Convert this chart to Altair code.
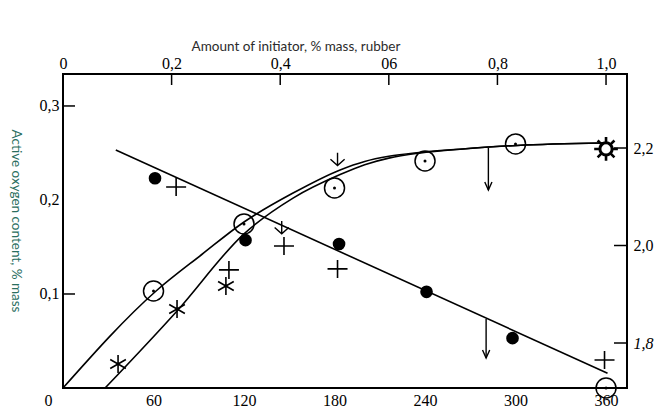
import altair as alt
import pandas as pd

# ---------------- axis ticks / labels ----------------
bottom_ticks = [0, 60, 120, 180, 240, 300, 360]
top_ticks = [0, 72, 144, 216, 288, 360]          # positions of the top-axis ticks (bottom-axis units)
top_labels = ["0", "0,2", "0,4", "06", "0,8", "1,0"]
top_tick_marks = [72, 144, 216, 288, 360]
left_ticks = [0.1, 0.2, 0.3]
left_tick_marks = [0.1, 0.3]
right_ticks = [1.8, 2.0, 2.2]

top_title = "Amount of initiator, % mass, rubber"
left_title = "Active oxygen content, % mass"

# ---------------- series (left axis) ----------------
circ_x = [60, 120, 180, 240, 300, 360]
circ_y = [0.1032, 0.1745, 0.2128, 0.2415, 0.2596, 0.0]

star_x = [36.5, 75.6, 108]
star_y = [0.0255, 0.0840, 0.1085]

oarrow_x = [145, 182]
oarrow_y = [0.170, 0.2426]

sun_x = [360]
sun_y = [0.2543]

curve1_x = [0, 61.7, 92, 120, 152.5, 183.7, 200, 216, 236, 265, 301, 358]
curve1_y = [0, 0.1032, 0.1420, 0.1766, 0.2074, 0.2320, 0.2410, 0.2465, 0.2505, 0.2543, 0.2580, 0.2606]
curve2_x = [27.9, 75.6, 120, 152.5, 183.7, 200, 216, 236, 265, 301, 358]
curve2_y = [0, 0.0820, 0.1640, 0.2020, 0.2270, 0.2375, 0.2445, 0.2498, 0.2543, 0.2580, 0.2606]

darrow_x = [282, 280.5]
darrow_y1 = [0.2553, 0.0734]
darrow_y2 = [0.2106, 0.0319]

# ---------------- series (right axis) ----------------
fill_x = [61, 121, 183, 241, 298]
fill_y = [2.138, 2.011, 2.003, 1.905, 1.810]

plus_x = [75, 110, 146.5, 182, 359]
plus_y = [2.120, 1.950, 1.999, 1.952, 1.765]

line_x = [35, 361]
line_y = [2.196, 1.738]

# ---------------- scales ----------------
X_DOM = [0, 373.9]
YL_DOM = [0, 0.334]
YR_DOM = [1.7077, 2.3518]

SERIF = "'Liberation Serif', 'Times New Roman', serif"


def xs(field="x", axis=None):
    return alt.X(f"{field}:Q", scale=alt.Scale(domain=X_DOM, nice=False, zero=False), axis=axis)


def yl(field="y", axis=None):
    return alt.Y(f"{field}:Q", scale=alt.Scale(domain=YL_DOM, nice=False, zero=False), axis=axis)


def yr(field="y", axis=None):
    return alt.Y(f"{field}:Q", scale=alt.Scale(domain=YR_DOM, nice=False, zero=False), axis=axis)


comma_expr = "replace(format(datum.value, '.1f'), '.', ',')"
top_expr = "".join(f"datum.value == {v} ? '{l}' : " for v, l in zip(top_ticks, top_labels)) + "''"

bottom_axis = alt.Axis(values=bottom_ticks, orient="bottom", ticks=False, domain=False, grid=False,
                       labelFont=SERIF, labelFontSize=16, labelColor="black", labelPadding=4,
                       labelFlush=False, labelOverlap=False, title=None,
                       labelOffset={"condition": {"test": "datum.value == 0", "value": -15}, "value": 0})
top_axis = alt.Axis(values=top_ticks, orient="top", ticks=False, domain=False, grid=False,
                    labelFont=SERIF, labelFontSize=16, labelColor="black", labelPadding=3,
                    labelFlush=False, labelOverlap=False, labelExpr=top_expr, title=None)
left_axis = alt.Axis(values=left_ticks, orient="left", ticks=False, domain=False, grid=False,
                     labelFont=SERIF, labelFontSize=16, labelColor="black", labelPadding=4,
                     labelFlush=False, labelOverlap=False, labelExpr=comma_expr, title=None)
right_axis = alt.Axis(values=right_ticks, orient="right", ticks=False, domain=False, grid=False,
                      labelFont=SERIF, labelFontSize=16, labelColor="black", labelPadding=6,
                      labelFlush=False, labelOverlap=False, labelExpr=comma_expr, title=None,
                      labelFontStyle={"condition": {"test": "datum.value < 1.9", "value": "italic"},
                                      "value": "normal"})

# ---------------- marker shapes ----------------
PLUS = "M-1,0L1,0M0,-0.9L0,0.9"
ASTER = "M0,-1L0,1M-0.87,-0.5L0.87,0.5M-0.87,0.5L0.87,-0.5"
OARROW = "M0,-1L0,0.8M-1,-0.1L0,0.8L1,-0.1"
HEAD = "M-0.45,-1L0,0L0.45,-1"
RAYS = ("M0,-1L0,-0.55M0,1L0,0.55M-1,0L-0.55,0M1,0L0.55,0"
        "M-0.71,-0.71L-0.4,-0.4M0.71,0.71L0.4,0.4M-0.71,0.71L-0.4,0.4M0.71,-0.71L0.4,-0.4")

# ---------------- layers ----------------
curves_df = pd.DataFrame({
    "x": curve1_x + curve2_x,
    "y": curve1_y + curve2_y,
    "s": ["c1"] * len(curve1_x) + ["c2"] * len(curve2_x),
})
curves = alt.Chart(curves_df).mark_line(interpolate="monotone", color="black", strokeWidth=1.6).encode(
    x=xs(axis=bottom_axis), y=yl(), detail="s:N")

circ_df = pd.DataFrame({"x": circ_x, "y": circ_y})
circ_open = alt.Chart(circ_df).mark_point(shape="circle", size=400, filled=False, color="black",
                                          strokeWidth=1.5, opacity=1).encode(x=xs(), y=yl())
circ_dot = alt.Chart(circ_df).mark_point(shape="circle", size=9, filled=True, color="black",
                                         opacity=1).encode(x=xs(), y=yl())

stars = alt.Chart(pd.DataFrame({"x": star_x, "y": star_y})).mark_point(
    shape=ASTER, size=324, filled=False, color="black", strokeWidth=1.6, opacity=1).encode(x=xs(), y=yl())

oarrows = alt.Chart(pd.DataFrame({"x": oarrow_x, "y": oarrow_y})).mark_point(
    shape=OARROW, size=200, filled=False, color="black", strokeWidth=1.4, opacity=1).encode(x=xs(), y=yl())

sun_df = pd.DataFrame({"x": sun_x, "y": sun_y})
sun_ring = alt.Chart(sun_df).mark_point(shape="circle", size=150, filled=False, color="black",
                                        strokeWidth=3, opacity=1).encode(x=xs(), y=yl())
sun_rays = alt.Chart(sun_df).mark_point(shape=RAYS, size=560, filled=False, color="black",
                                        strokeWidth=2.6, opacity=1).encode(x=xs(), y=yl())

darrow_df = pd.DataFrame({"x": darrow_x, "y": darrow_y1, "y2": darrow_y2})
darrow_shaft = alt.Chart(darrow_df).mark_rule(color="black", strokeWidth=1.4).encode(
    x=xs(), y=yl(), y2="y2:Q")
darrow_head = alt.Chart(darrow_df).mark_point(shape=HEAD, size=256, filled=False, color="black",
                                              strokeWidth=1.4, opacity=1).encode(x=xs(), y=yl("y2"))

dline = alt.Chart(pd.DataFrame({"x": line_x, "y": line_y})).mark_line(color="black", strokeWidth=1.6).encode(
    x=xs(), y=yr())
filled = alt.Chart(pd.DataFrame({"x": fill_x, "y": fill_y})).mark_point(
    shape="circle", size=160, filled=True, color="black", opacity=1).encode(x=xs(), y=yr())
pluses = alt.Chart(pd.DataFrame({"x": plus_x, "y": plus_y})).mark_point(
    shape=PLUS, size=400, filled=False, color="black", strokeWidth=1.6, opacity=1).encode(x=xs(), y=yr())

# axis tick marks drawn inward
left_tk = alt.Chart(pd.DataFrame({"y": left_tick_marks})).mark_rule(color="black", strokeWidth=1.5).encode(
    y=yl(axis=left_axis), x=alt.value(0), x2=alt.value(12))
right_tk = alt.Chart(pd.DataFrame({"y": right_ticks})).mark_rule(color="black", strokeWidth=1.5).encode(
    y=yr(axis=right_axis), x=alt.value(551), x2=alt.value(564))
top_tk = alt.Chart(pd.DataFrame({"x": top_tick_marks})).mark_rule(color="black", strokeWidth=1.5).encode(
    x=xs(axis=top_axis), y=alt.value(0), y2=alt.value(11))

# titles
t_top = alt.Chart(pd.DataFrame({"t": [top_title]})).mark_text(
    font="Lato", fontSize=13.5, color="#2b2b2b", align="center", baseline="middle").encode(
    text="t:N", x=alt.value(233), y=alt.value(-27))
t_left = alt.Chart(pd.DataFrame({"t": [left_title]})).mark_text(
    font="Lato", fontSize=13.5, color="#2a6e5e", align="center", baseline="middle", angle=90).encode(
    text="t:N", x=alt.value(-47), y=alt.value(147))

chart = alt.layer(
    curves, circ_open, circ_dot, stars, oarrows, sun_ring, sun_rays, darrow_shaft, darrow_head,
    dline, filled, pluses, left_tk, right_tk, top_tk, t_top, t_left
).resolve_scale(y="independent").resolve_axis(x="independent", y="independent").properties(
    width=564, height=314,
    autosize=alt.AutoSizeParams(type="none"),
    padding={"left": 63, "top": 74, "right": 36, "bottom": 24},
    background="white",
).configure_view(stroke="black", strokeWidth=2)

chart.save("out.html", embed_options={"renderer": "svg", "actions": False})
